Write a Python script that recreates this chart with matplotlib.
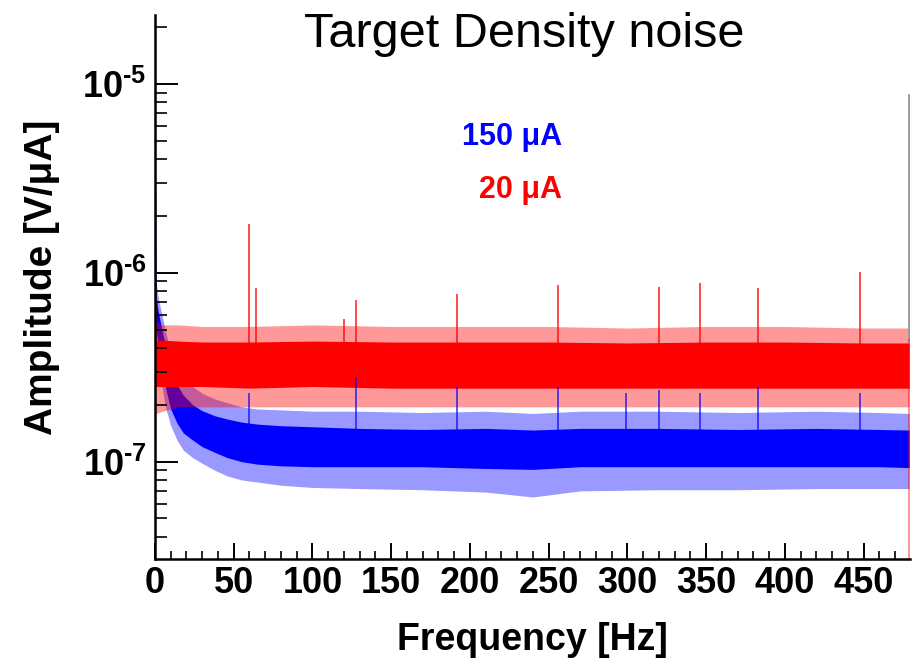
import numpy as np
import matplotlib
matplotlib.use("Agg")
import matplotlib.pyplot as plt
from matplotlib.ticker import FixedLocator, MultipleLocator, LogLocator, FuncFormatter

plt.rcParams['font.family'] = ['Liberation Sans', 'DejaVu Sans']
plt.rcParams['mathtext.fontset'] = 'custom'
plt.rcParams['mathtext.rm'] = 'Liberation Sans:bold'
plt.rcParams['mathtext.bf'] = 'Liberation Sans:bold'
plt.rcParams['mathtext.it'] = 'Liberation Sans:bold'

# ---------------- data ----------------
title = "Target Density noise"
x_label = "Frequency [Hz]"
y_label = "Amplitude [V/\u03bcA]"
series_labels = ["150 \u03bcA", "20 \u03bcA"]

# 150 uA (blue) noise band envelope
blue_freq = [0, 0.7, 2, 4, 7, 10, 14, 18, 24, 30, 38, 46, 55, 65, 80, 100,
             130, 170, 210, 240, 270, 320, 370, 420, 460, 479]
blue_out_hi = [1.2e-5, 9.0e-7, 7.5e-7, 6.2e-7, 4.8e-7, 3.8e-7, 3.2e-7, 2.8e-7, 2.5e-7,
               2.3e-7, 2.15e-7, 2.05e-7, 1.95e-7, 1.9e-7, 1.88e-7, 1.85e-7, 1.85e-7,
               1.82e-7, 1.85e-7, 1.8e-7, 1.85e-7, 1.85e-7, 1.82e-7, 1.85e-7, 1.82e-7, 1.8e-7]
blue_core_hi = [1.2e-5, 7.5e-7, 6.3e-7, 5.2e-7, 4.0e-7, 3.1e-7, 2.55e-7, 2.25e-7, 2.0e-7,
                1.86e-7, 1.75e-7, 1.68e-7, 1.62e-7, 1.58e-7, 1.55e-7, 1.53e-7, 1.5e-7,
                1.48e-7, 1.5e-7, 1.47e-7, 1.5e-7, 1.5e-7, 1.48e-7, 1.5e-7, 1.48e-7, 1.47e-7]
blue_core_lo = [5.0e-7, 5.0e-7, 4.2e-7, 3.3e-7, 2.4e-7, 1.9e-7, 1.6e-7, 1.42e-7, 1.3e-7,
                1.2e-7, 1.12e-7, 1.05e-7, 1.0e-7, 9.7e-8, 9.5e-8, 9.4e-8, 9.4e-8,
                9.4e-8, 9.2e-8, 9.1e-8, 9.4e-8, 9.4e-8, 9.4e-8, 9.4e-8, 9.4e-8, 9.3e-8]
blue_out_lo = [4.0e-7, 4.0e-7, 3.3e-7, 2.6e-7, 1.9e-7, 1.55e-7, 1.3e-7, 1.15e-7, 1.05e-7,
               9.8e-8, 9.0e-8, 8.4e-8, 8.0e-8, 7.8e-8, 7.5e-8, 7.3e-8, 7.2e-8,
               7.1e-8, 6.9e-8, 6.5e-8, 7.0e-8, 7.1e-8, 7.1e-8, 7.2e-8, 7.2e-8, 7.2e-8]
blue_spike_freq = [60, 128, 192, 256, 299, 320, 346, 383, 447.5]
blue_spike_amp = [2.3e-7, 2.8e-7, 2.5e-7, 2.5e-7, 2.3e-7, 2.4e-7, 2.3e-7, 2.5e-7, 2.3e-7]
blue_level = 1.2e-7

# 20 uA (red) noise band envelope
red_freq = [0, 0.7, 5, 15, 30, 60, 100, 150, 200, 250, 300, 350, 400, 450, 479]
red_out_hi = [4.1e-6, 5.5e-7, 5.3e-7, 5.3e-7, 5.2e-7, 5.2e-7, 5.3e-7, 5.2e-7, 5.2e-7,
              5.2e-7, 5.1e-7, 5.2e-7, 5.2e-7, 5.1e-7, 5.1e-7]
red_core_hi = [4.1e-6, 4.4e-7, 4.4e-7, 4.35e-7, 4.3e-7, 4.3e-7, 4.35e-7, 4.3e-7, 4.3e-7,
               4.3e-7, 4.25e-7, 4.3e-7, 4.3e-7, 4.25e-7, 4.25e-7]
red_core_lo = [2.5e-7, 2.5e-7, 2.5e-7, 2.5e-7, 2.5e-7, 2.45e-7, 2.5e-7, 2.45e-7, 2.45e-7,
               2.45e-7, 2.45e-7, 2.45e-7, 2.45e-7, 2.45e-7, 2.45e-7]
red_out_lo = [1.8e-7, 1.8e-7, 1.85e-7, 1.95e-7, 1.95e-7, 1.95e-7, 1.95e-7, 1.95e-7, 1.95e-7,
              1.95e-7, 1.95e-7, 1.95e-7, 1.95e-7, 1.95e-7, 1.95e-7]
red_spike_freq = [60, 64, 120, 128, 192, 256, 320, 346, 383, 447.5]
red_spike_amp = [1.82e-6, 8.3e-7, 5.7e-7, 7.2e-7, 7.7e-7, 8.6e-7, 8.4e-7, 8.8e-7, 8.3e-7, 1.01e-6]
red_level = 3.3e-7

# last bin at the right edge
edge_freq = 479
edge_gray = [4.4e-7, 8.7e-6]
edge_red = [3.05e-8, 4.4e-7]

x_ticks = [0, 50, 100, 150, 200, 250, 300, 350, 400, 450]
y_ticks = [1e-7, 1e-6, 1e-5]
x_lim = (0, 479.5)
y_lim = (3.05e-8, 2.32e-5)

BLUE = "#0000ff"
RED = "#ff0000"

# ---------------- figure ----------------
fig = plt.figure(figsize=(9.24, 6.6), dpi=100)
ax = fig.add_axes([0.1677, 0.1530, 0.8171, 0.8243])
ax.set_yscale('log')

# blue
ax.fill_between(blue_freq, blue_out_lo, blue_out_hi, color=BLUE, alpha=0.4, lw=0)
ax.fill_between(blue_freq, blue_core_lo, blue_core_hi, color=BLUE, alpha=1.0, lw=0)
ax.plot([blue_freq[0]] * 2, [blue_core_lo[0], blue_out_hi[0]], color=BLUE, lw=1.5)

# red
ax.fill_between(red_freq, red_out_lo, red_out_hi, color=RED, alpha=0.4, lw=0)
ax.fill_between(red_freq, red_core_lo, red_core_hi, color=RED, alpha=1.0, lw=0)
ax.plot([red_freq[0]] * 2, [red_core_lo[0], red_out_hi[0]], color=RED, lw=1.5)
ax.vlines(red_spike_freq, red_level, red_spike_amp, color=RED, lw=1.4, alpha=0.7)
ax.vlines(blue_spike_freq, blue_level, blue_spike_amp, color=BLUE, lw=1.4, alpha=0.65)

ax.plot([edge_freq] * 2, edge_gray, color="#999999", lw=2)
ax.plot([edge_freq] * 2, edge_red, color=RED, lw=1.5, alpha=0.4)

ax.set_xlim(*x_lim)
ax.set_ylim(*y_lim)

# axes styling
for s in ['top', 'right']:
    ax.spines[s].set_visible(False)
for s in ['left', 'bottom']:
    ax.spines[s].set_linewidth(1.8)

ax.xaxis.set_major_locator(FixedLocator(x_ticks))
ax.xaxis.set_minor_locator(MultipleLocator(10))
ax.yaxis.set_major_locator(FixedLocator(y_ticks))
ax.yaxis.set_minor_locator(LogLocator(base=10, subs=np.arange(2, 10)))

def yfmt(v, pos):
    e = int(round(np.log10(v)))
    sign = r'\text{-}' if e < 0 else ''
    return r'$10^{%s%d}$' % (sign, abs(e))

ax.yaxis.set_major_formatter(FuncFormatter(yfmt))
ax.yaxis.set_minor_formatter(FuncFormatter(lambda v, p: ""))

ax.tick_params(axis='x', which='major', direction='in', length=11.5, width=1.4,
               labelsize=26, pad=5, top=False)
ax.tick_params(axis='x', which='minor', direction='in', length=5.8, width=1.2, top=False)
ax.tick_params(axis='y', which='major', direction='in', length=16.5, width=1.4,
               labelsize=26, pad=6, right=False)
ax.tick_params(axis='y', which='minor', direction='in', length=8.6, width=1.2, right=False)
for lab in ax.get_xticklabels() + ax.get_yticklabels():
    lab.set_fontweight('bold')

fig.text(0.5758, 1 - 650 / 660, x_label, fontsize=27, fontweight='bold',
         ha='center', va='baseline')
fig.text(42 / 924, 0.5805, y_label, fontsize=28, fontweight='bold',
         ha='center', va='center', rotation=90)

fig.text(0.567, 0.947, title, fontsize=35, ha='center', va='center')
fig.text(0.608, 0.792, series_labels[0], fontsize=22, fontweight='bold',
         color=BLUE, ha='right', va='center')
fig.text(0.608, 0.712, series_labels[1], fontsize=22, fontweight='bold',
         color=RED, ha='right', va='center')

fig.savefig("out.png", dpi=100)
